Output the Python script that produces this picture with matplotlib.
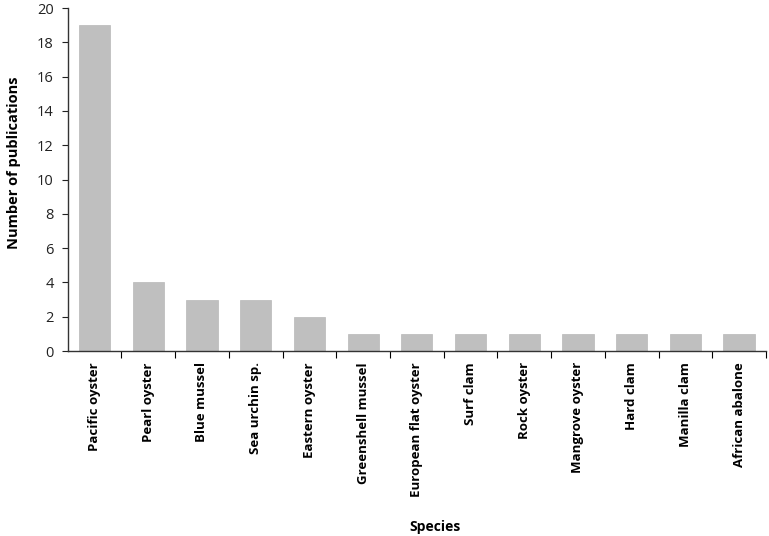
import numpy as np
import matplotlib
matplotlib.use("Agg")
import matplotlib.pyplot as plt
from matplotlib.ticker import FixedLocator

species = ["Pacific oyster", "Pearl oyster", "Blue mussel", "Sea urchin sp.",
           "Eastern oyster", "Greenshell mussel", "European flat oyster",
           "Surf clam", "Rock oyster", "Mangrove oyster", "Hard clam",
           "Manilla clam", "African abalone"]
publications = [19, 4, 3, 3, 2, 1, 1, 1, 1, 1, 1, 1, 1]
yticks = [0, 2, 4, 6, 8, 10, 12, 14, 16, 18, 20]

plt.rcParams["font.family"] = ["Open Sans", "DejaVu Sans"]

fig = plt.figure(figsize=(7.69, 5.36), dpi=100)
ax = fig.add_axes([0.088, 0.345, 0.908, 0.64])

x = np.arange(len(species))
ax.bar(x, publications, width=0.58, color="#bfbfbf", edgecolor="#b8b8b8",
       linewidth=0.5, zorder=2)

ax.set_xlim(-0.5, len(species) - 0.5)
ax.set_ylim(0, 20)
ax.set_yticks(yticks)
ax.tick_params(axis="y", direction="out", length=4, width=0.8,
               labelsize=10.5, colors="#222222", pad=6)
ax.set_xticks(x)
ax.set_xticklabels(species, rotation=90, fontsize=9.5, fontweight="bold")
ax.tick_params(axis="x", length=0, pad=8)
ax.xaxis.set_minor_locator(FixedLocator(np.arange(0.5, len(species), 1.0)))
ax.tick_params(axis="x", which="minor", direction="out", length=5, width=0.8)

for side in ["top", "right"]:
    ax.spines[side].set_visible(False)
for side in ["left", "bottom"]:
    ax.spines[side].set_linewidth(1.0)
    ax.spines[side].set_color("#333333")

ax.set_ylabel("Number of publications", fontsize=10.5, fontweight="bold")
ax.yaxis.set_label_coords(-0.067, 0.55)
fig.text(0.566, 0.017, "Species", fontsize=10, fontweight="bold",
         ha="center", va="center")

fig.savefig("out.png", dpi=100)
